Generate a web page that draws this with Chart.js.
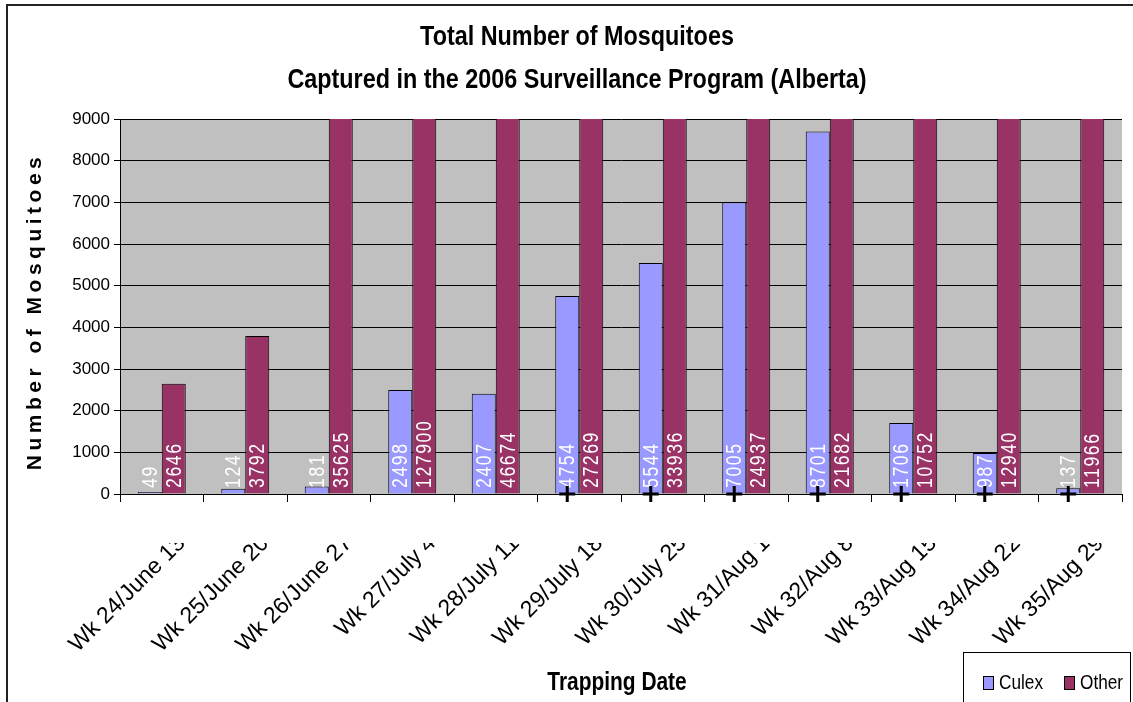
<!DOCTYPE html>
<html>
<head>
<meta charset="utf-8">
<script src="https://cdn.jsdelivr.net/npm/chart.js@4.4.0/dist/chart.umd.min.js"></script>
<style>
  html, body { margin: 0; padding: 0; background: #fff; }
</style>
</head>
<body>
<canvas id="mosqChart" width="1133" height="702"></canvas>
<script>
/* =========================
   DATA
========================= */
const weeks = [
  "Wk 24/June 13", "Wk 25/June 20", "Wk 26/June 27", "Wk 27/July 4",
  "Wk 28/July 11", "Wk 29/July 18", "Wk 30/July 25", "Wk 31/Aug 1",
  "Wk 32/Aug 8", "Wk 33/Aug 15", "Wk 34/Aug 22", "Wk 35/Aug 29"
];
const culex = [49, 124, 181, 2498, 2407, 4754, 5544, 7005, 8701, 1706, 987, 137];
const other = [2646, 3792, 35625, 127900, 46674, 27269, 33936, 24937, 21682, 10752, 12940, 11966];
// weeks flagged with a "+" under the Culex bar
const flagged = [0, 0, 0, 0, 0, 1, 1, 1, 1, 1, 1, 1];
const yTicks = [0, 1000, 2000, 3000, 4000, 5000, 6000, 7000, 8000, 9000];

const titleLines = ["Total Number of Mosquitoes", "Captured in the 2006 Surveillance Program (Alberta)"];
const yTitle = "Number of Mosquitoes";
const xTitle = "Trapping Date";

/* =========================
   STYLE
========================= */
const ARIAL = '"Liberation Sans", Arial, sans-serif';
const SQUEEZE = 0.82; // fake "Arial Narrow"
const CULEX_COL = "#9999ff";
const OTHER_COL = "#993366";

// draw narrow text at (x, y), optionally rotated
function narrowText(ctx, text, x, y, font, opts = {}) {
  ctx.save();
  ctx.translate(x, y);
  if (opts.rotate) ctx.rotate(opts.rotate);
  ctx.scale(opts.squeeze || SQUEEZE, 1);
  ctx.font = font;
  ctx.letterSpacing = opts.spacing || "0px";
  ctx.fillStyle = opts.color || "#000";
  ctx.textAlign = opts.align || "center";
  ctx.textBaseline = "middle";
  ctx.fillText(text, 0, 0);
  ctx.restore();
}

/* =========================
   PLUGINS
========================= */
const frame = {
  id: "frame",
  beforeDraw(chart) {
    const { ctx, chartArea: a } = chart;
    ctx.save();
    ctx.fillStyle = "#c0c0c0";
    ctx.fillRect(a.left, a.top, a.right - a.left, a.bottom - a.top);
    ctx.strokeStyle = "#222";
    ctx.lineWidth = 2;
    ctx.beginPath();
    ctx.moveTo(7, 710);
    ctx.lineTo(7, 5);
    ctx.lineTo(1140, 5);
    ctx.stroke();
    ctx.restore();
  }
};

// put each "+" under its Culex bar instead of the category centre
const flagAlign = {
  id: "flagAlign",
  afterDatasetsUpdate(chart) {
    const marks = chart.getDatasetMeta(0);
    const bars = chart.getDatasetMeta(1);
    marks.data.forEach((pt, i) => { pt.x = bars.data[i].x; });
  }
};

const barLabels = {
  id: "barLabels",
  afterDatasetDraw(chart, args) {
    const meta = args.meta;
    if (meta.type !== "bar") return;
    const base = chart.scales.y.getPixelForValue(0);
    const data = chart.data.datasets[args.index].data;
    meta.data.forEach((el, i) => {
      narrowText(chart.ctx, String(data[i]), el.x + 1, base - 6, "22px " + ARIAL,
        { rotate: -Math.PI / 2, align: "left", spacing: "2px", squeeze: 0.8, color: "#fff" });
    });
  },
  afterDatasetsDraw(chart) {
    // x tick labels come next: cut them at the top like the original
    const ctx = chart.ctx;
    ctx.save();
    ctx.beginPath();
    ctx.rect(0, 543, chart.width, chart.height);
    ctx.clip();
  },
  afterDraw(chart) {
    chart.ctx.restore();
  }
};

const extras = {
  id: "extras",
  afterDraw(chart) {
    const { ctx, chartArea: a } = chart;
    // titles
    narrowText(ctx, titleLines[0], 577, 37, "bold 28.5px " + ARIAL);
    narrowText(ctx, titleLines[1], 577, 80, "bold 28.5px " + ARIAL);
    narrowText(ctx, xTitle, 617, 683, "bold 25.5px " + ARIAL);
    narrowText(ctx, yTitle, 35, (a.top + a.bottom) / 2 + 5, "bold 21px " + ARIAL,
      { rotate: -Math.PI / 2, squeeze: 1, spacing: "4.5px" });

    // legend
    ctx.save();
    ctx.strokeStyle = "#000";
    ctx.lineWidth = 1;
    ctx.strokeRect(963.5, 652.5, 167, 60);
    const items = chart.data.datasets.filter(d => d.type !== "line");
    const xs = [983, 1064];
    items.forEach((d, i) => {
      ctx.fillStyle = d.backgroundColor;
      ctx.fillRect(xs[i], 676, 10, 13);
      ctx.strokeRect(xs[i] + 0.5, 676.5, 10, 13);
      narrowText(ctx, d.label, xs[i] + 16, 683, "21px " + ARIAL, { align: "left" });
    });
    ctx.restore();
  }
};

/* =========================
   CHART
========================= */
Chart.defaults.font.family = ARIAL;
Chart.defaults.color = "#000";

new Chart(document.getElementById("mosqChart"), {
  type: "bar",
  data: {
    labels: weeks,
    datasets: [
      {
        type: "line",
        label: "+",
        data: flagged.map(f => (f ? 0 : null)),
        showLine: false,
        pointStyle: "cross",
        pointRadius: 8,
        pointBorderWidth: 3,
        pointBorderColor: "#000",
        clip: false,
        order: -1
      },
      {
        label: "Culex",
        data: culex,
        backgroundColor: CULEX_COL,
        borderColor: "#000",
        borderWidth: 1,
        categoryPercentage: 0.575,
        barPercentage: 1
      },
      {
        label: "Other",
        data: other,
        backgroundColor: OTHER_COL,
        borderColor: "#000",
        borderWidth: 1,
        categoryPercentage: 0.575,
        barPercentage: 1
      }
    ]
  },
  options: {
    responsive: false,
    animation: false,
    devicePixelRatio: 1,
    layout: { padding: { left: 21, right: 8, top: 119, bottom: 0 } },
    plugins: {
      legend: { display: false },
      tooltip: { enabled: false },
      title: { display: false }
    },
    scales: {
      x: {
        offset: true,
        grid: {
          drawOnChartArea: false,
          drawTicks: true,
          tickLength: 8,
          color: "#000",
          offset: true
        },
        border: { color: "#000" },
        ticks: {
          autoSkip: false,
          minRotation: 45,
          maxRotation: 45,
          labelOffset: 20,
          padding: 28,
          z: 1,
          font: { family: ARIAL, size: 23 },
          color: "#000"
        },
        afterFit(s) {
          s.height = 208;
          s.paddingRight = 0;
        }
      },
      y: {
        min: 0,
        max: 9000,
        afterBuildTicks(s) { s.ticks = yTicks.map(v => ({ value: v })); },
        grid: { color: "#000", tickLength: 6 },
        border: { color: "#000" },
        ticks: {
          padding: 4,
          font: { family: ARIAL, size: 17 },
          color: "#000",
          callback: v => String(v)
        },
        afterFit(s) { s.width = 99; }
      }
    }
  },
  plugins: [frame, flagAlign, barLabels, extras]
});
</script>
</body>
</html>
